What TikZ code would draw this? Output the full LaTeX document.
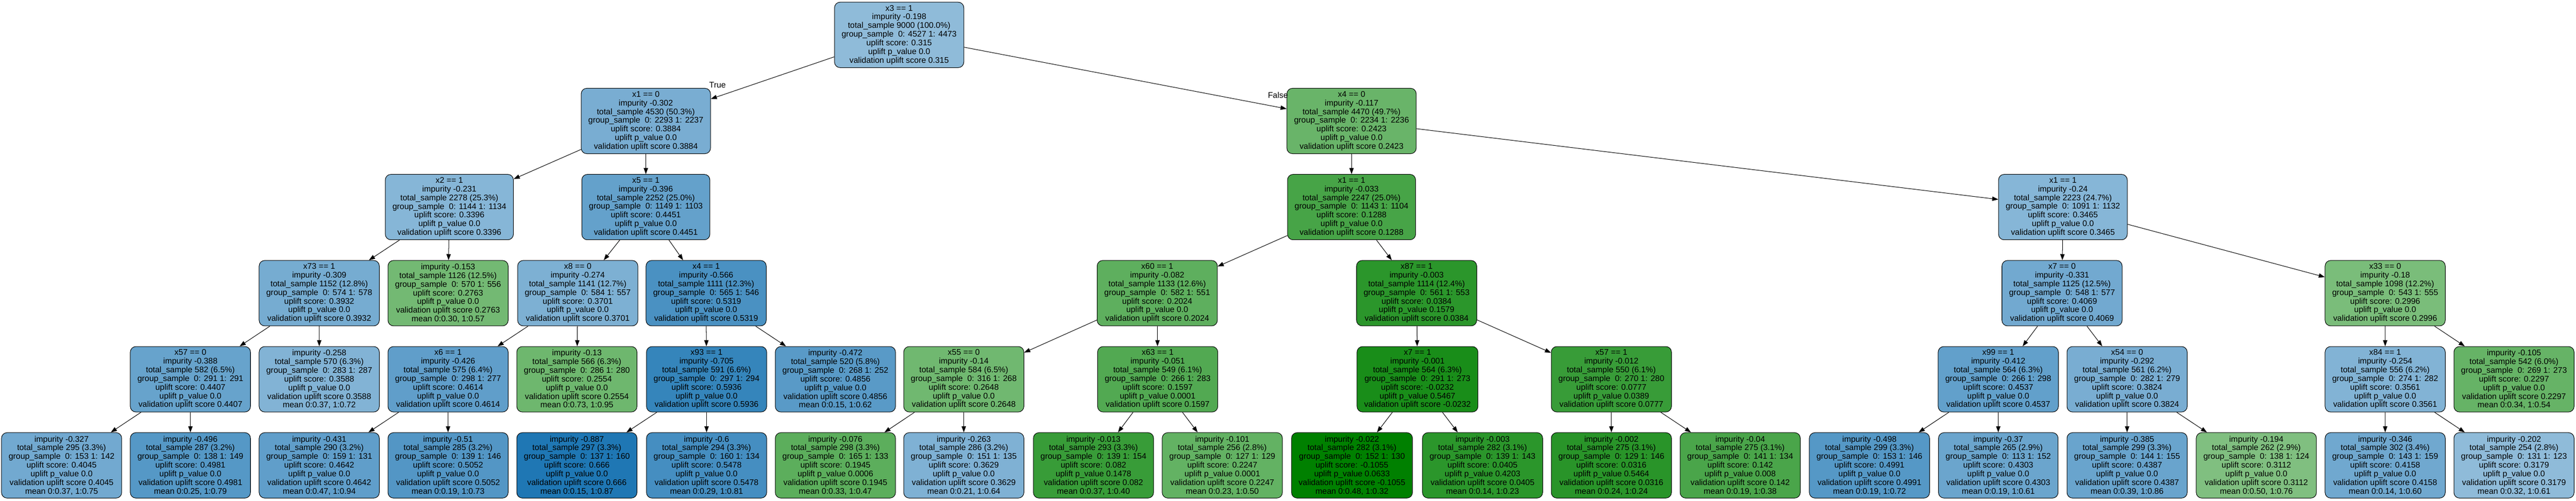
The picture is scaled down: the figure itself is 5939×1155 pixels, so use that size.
\documentclass[tikz,border=0pt]{standalone}
\usepackage{fontspec}
\setmainfont{Liberation Sans}
\usepackage{tikz}
\usetikzlibrary{arrows.meta}
\usetikzlibrary{positioning}

\definecolor{upblue}{HTML}{1F77B4}
\definecolor{upgreen}{HTML}{008000}

% split node: test, impurity, total, group 0, group 1, uplift, p value
\newcommand{\splittext}[7]{#1\\impurity #2\\total\_sample #3\\group\_sample\ \ 0: #4 1: #5\\uplift score: #6\\uplift p\_value #7\\validation uplift score #6}
% leaf node: impurity, total, group 0, group 1, uplift, p value, mean
\newcommand{\leaftext}[7]{impurity #1\\total\_sample #2\\group\_sample\ \ 0: #3 1: #4\\uplift score: #5\\uplift p\_value #6\\validation uplift score #5\\mean #7}

\begin{document}
\begin{tikzpicture}[x=1pt, y=1pt, >={Triangle[length=14pt,width=10pt]}, node distance=198.6pt,
  font=\fontsize{18.9pt}{20pt}\selectfont,
  box/.style={draw, line width=1.2pt, rounded corners=13pt, align=center,
    inner xsep=16.5pt, inner ysep=6.5pt, minimum height=151pt},
  edge/.style={->, line width=1.2pt}]
			\useasboundingbox (0,0) rectangle (5939,-1155);
			% level 0 - 1
			\node[box, fill=upblue!50] (Root) at (2073,-80.5) {\splittext{x3 == 1}{-0.198}{9000 (100.0\%)}{4527}{4473}{0.315}{0.0}};
			\node[box, fill=upblue!60, below of=Root, xshift=-584pt] (L) {\splittext{x1 == 0}{-0.302}{4530 (50.3\%)}{2293}{2237}{0.3884}{0.0}};
			\node[box, fill=upgreen!59, below of=Root, xshift=1043pt] (R) {\splittext{x4 == 0}{-0.117}{4470 (49.7\%)}{2234}{2236}{0.2423}{0.0}};
			% level 2
			\node[box, fill=upblue!54, below of=L, xshift=-453pt] (LL) {\splittext{x2 == 1}{-0.231}{2278 (25.3\%)}{1144}{1134}{0.3396}{0.0}};
			\node[box, fill=upblue!69, below of=L] (LR) {\splittext{x5 == 1}{-0.396}{2252 (25.0\%)}{1149}{1103}{0.4451}{0.0}};
			\node[box, fill=upgreen!72, below of=R] (RL) {\splittext{x1 == 1}{-0.033}{2247 (25.0\%)}{1143}{1104}{0.1288}{0.0}};
			\node[box, fill=upblue!54, below of=R, xshift=1640pt] (RR) {\splittext{x1 == 1}{-0.24}{2223 (24.7\%)}{1091}{1132}{0.3465}{0.0}};
			% level 3
			\node[box, fill=upblue!61, below of=LL, xshift=-300pt] (LLL) {\splittext{x73 == 1}{-0.309}{1152 (12.8\%)}{574}{578}{0.3932}{0.0}};
			\node[box, fill=upgreen!55, below of=LL, xshift=-3pt] (LLR) {\leaftext{-0.153}{1126 (12.5\%)}{570}{556}{0.2763}{0.0}{0:0.30, 1:0.57}};
			\node[box, fill=upblue!58, below of=LR, xshift=-157pt] (LRL) {\splittext{x8 == 0}{-0.274}{1141 (12.7\%)}{584}{557}{0.3701}{0.0}};
			\node[box, fill=upblue!81, below of=LR, xshift=139pt] (LRR) {\splittext{x4 == 1}{-0.566}{1111 (12.3\%)}{565}{546}{0.5319}{0.0}};
			\node[box, fill=upgreen!63, below of=RL, xshift=-448pt] (RLL) {\splittext{x60 == 1}{-0.082}{1133 (12.6\%)}{582}{551}{0.2024}{0.0}};
			\node[box, fill=upgreen!83, below of=RL, xshift=150pt] (RLR) {\splittext{x87 == 1}{-0.003}{1114 (12.4\%)}{561}{553}{0.0384}{0.1579}};
			\node[box, fill=upblue!63, below of=RR, xshift=-2pt] (RRL) {\splittext{x7 == 0}{-0.331}{1125 (12.5\%)}{548}{577}{0.4069}{0.0}};
			\node[box, fill=upgreen!52, below of=RR, xshift=743pt] (RRR) {\splittext{x33 == 0}{-0.18}{1098 (12.2\%)}{543}{555}{0.2996}{0.0}};
			% level 4
			\node[box, fill=upblue!68, below of=LLL, xshift=-297pt] (LLLL) {\splittext{x57 == 0}{-0.388}{582 (6.5\%)}{291}{291}{0.4407}{0.0}};
			\node[box, fill=upblue!56, below of=LLL] (LLLR) {\leaftext{-0.258}{570 (6.3\%)}{283}{287}{0.3588}{0.0}{0:0.37, 1:0.72}};
			\node[box, fill=upblue!71, below of=LRL, xshift=-299pt] (LRLL) {\splittext{x6 == 1}{-0.426}{575 (6.4\%)}{298}{277}{0.4614}{0.0}};
			\node[box, fill=upgreen!57, below of=LRL, xshift=-2pt] (LRLR) {\leaftext{-0.13}{566 (6.3\%)}{286}{280}{0.2554}{0.0}{0:0.73, 1:0.95}};
			\node[box, fill=upblue!90, below of=LRR, xshift=1pt] (LRRL) {\splittext{x93 == 1}{-0.705}{591 (6.6\%)}{297}{294}{0.5936}{0.0}};
			\node[box, fill=upblue!74, below of=LRR, xshift=298pt] (LRRR) {\leaftext{-0.472}{520 (5.8\%)}{268}{252}{0.4856}{0.0}{0:0.15, 1:0.62}};
			\node[box, fill=upgreen!56, below of=RLL, xshift=-446pt] (RLLL) {\splittext{x55 == 0}{-0.14}{584 (6.5\%)}{316}{268}{0.2648}{0.0}};
			\node[box, fill=upgreen!68, below of=RLL, xshift=1pt] (RLLR) {\splittext{x63 == 1}{-0.051}{549 (6.1\%)}{266}{283}{0.1597}{0.0001}};
			\node[box, fill=upgreen!90, below of=RLR, xshift=2pt] (RLRL) {\splittext{x7 == 1}{-0.001}{564 (6.3\%)}{291}{273}{-0.0232}{0.5467}};
			\node[box, fill=upgreen!78, below of=RLR, xshift=449pt] (RLRR) {\splittext{x57 == 1}{-0.012}{550 (6.1\%)}{270}{280}{0.0777}{0.0389}};
			\node[box, fill=upblue!70, below of=RRL, xshift=-147pt] (RRLL) {\splittext{x99 == 1}{-0.412}{564 (6.3\%)}{266}{298}{0.4537}{0.0}};
			\node[box, fill=upblue!60, below of=RRL, xshift=150pt] (RRLR) {\splittext{x54 == 0}{-0.292}{561 (6.2\%)}{282}{279}{0.3824}{0.0}};
			\node[box, fill=upblue!56, below of=RRR] (RRRL) {\splittext{x84 == 1}{-0.254}{556 (6.2\%)}{274}{282}{0.3561}{0.0}};
			\node[box, fill=upgreen!60, below of=RRR, xshift=297pt] (RRRR) {\leaftext{-0.105}{542 (6.0\%)}{269}{273}{0.2297}{0.0}{0:0.34, 1:0.54}};
			% level 5
			\node[box, fill=upblue!63, below of=LLLL, xshift=-297pt] (LLLLL) {\leaftext{-0.327}{295 (3.3\%)}{153}{142}{0.4045}{0.0}{0:0.37, 1:0.75}};
			\node[box, fill=upblue!76, below of=LLLL] (LLLLR) {\leaftext{-0.496}{287 (3.2\%)}{138}{149}{0.4981}{0.0}{0:0.25, 1:0.79}};
			\node[box, fill=upblue!71, below of=LRLL, xshift=-297pt] (LRLLL) {\leaftext{-0.431}{290 (3.2\%)}{159}{131}{0.4642}{0.0}{0:0.47, 1:0.94}};
			\node[box, fill=upblue!77, below of=LRLL] (LRLLR) {\leaftext{-0.51}{285 (3.2\%)}{139}{146}{0.5052}{0.0}{0:0.19, 1:0.73}};
			\node[box, fill=upblue!100, below of=LRRL, xshift=-299pt] (LRRLL) {\leaftext{-0.887}{297 (3.3\%)}{137}{160}{0.666}{0.0}{0:0.15, 1:0.87}};
			\node[box, fill=upblue!83, below of=LRRL] (LRRLR) {\leaftext{-0.6}{294 (3.3\%)}{160}{134}{0.5478}{0.0}{0:0.29, 1:0.81}};
			\node[box, fill=upgreen!64, below of=RLLL, xshift=-296pt] (RLLLL) {\leaftext{-0.076}{298 (3.3\%)}{165}{133}{0.1945}{0.0006}{0:0.33, 1:0.47}};
			\node[box, fill=upblue!57, below of=RLLL] (RLLLR) {\leaftext{-0.263}{286 (3.2\%)}{151}{135}{0.3629}{0.0}{0:0.21, 1:0.64}};
			\node[box, fill=upgreen!78, below of=RLLR, xshift=-148pt] (RLLRL) {\leaftext{-0.013}{293 (3.3\%)}{139}{154}{0.082}{0.1478}{0:0.37, 1:0.40}};
			\node[box, fill=upgreen!61, below of=RLLR, xshift=149pt] (RLLRR) {\leaftext{-0.101}{256 (2.8\%)}{127}{129}{0.2247}{0.0001}{0:0.23, 1:0.50}};
			\node[box, fill=upgreen!100, below of=RLRL, xshift=-151pt] (RLRLL) {\leaftext{-0.022}{282 (3.1\%)}{152}{130}{-0.1055}{0.0633}{0:0.48, 1:0.32}};
			\node[box, fill=upgreen!83, below of=RLRL, xshift=150pt] (RLRLR) {\leaftext{-0.003}{282 (3.1\%)}{139}{143}{0.0405}{0.4203}{0:0.14, 1:0.23}};
			\node[box, fill=upgreen!84, below of=RLRR] (RLRRL) {\leaftext{-0.002}{275 (3.1\%)}{129}{146}{0.0316}{0.5464}{0:0.24, 1:0.24}};
			\node[box, fill=upgreen!71, below of=RLRR, xshift=297pt] (RLRRR) {\leaftext{-0.04}{275 (3.1\%)}{141}{134}{0.142}{0.008}{0:0.19, 1:0.38}};
			\node[box, fill=upblue!76, below of=RRLL, xshift=-297pt] (RRLLL) {\leaftext{-0.498}{299 (3.3\%)}{153}{146}{0.4991}{0.0}{0:0.19, 1:0.72}};
			\node[box, fill=upblue!66, below of=RRLL] (RRLLR) {\leaftext{-0.37}{265 (2.9\%)}{113}{152}{0.4303}{0.0}{0:0.19, 1:0.61}};
			\node[box, fill=upblue!67, below of=RRLR] (RRLRL) {\leaftext{-0.385}{299 (3.3\%)}{144}{155}{0.4387}{0.0}{0:0.39, 1:0.86}};
			\node[box, fill=upgreen!50, below of=RRLR, xshift=298pt] (RRLRR) {\leaftext{-0.194}{262 (2.9\%)}{138}{124}{0.3112}{0.0}{0:0.50, 1:0.76}};
			\node[box, fill=upblue!64, below of=RRRL] (RRRLL) {\leaftext{-0.346}{302 (3.4\%)}{143}{159}{0.4158}{0.0}{0:0.14, 1:0.60}};
			\node[box, fill=upblue!50, below of=RRRL, xshift=297pt] (RRRLR) {\leaftext{-0.202}{254 (2.8\%)}{131}{123}{0.3179}{0.0}{0:0.32, 1:0.61}};
			% edges
			\draw[edge] (Root) -- (L) node[pos=0.945, above=20pt, inner sep=0pt] {True};
			\draw[edge] (Root) -- (R) node[pos=0.973, above=20pt, inner sep=0pt] {False};
			\draw[edge] (L) -- (LL);
			\draw[edge] (L) -- (LR);
			\draw[edge] (R) -- (RL);
			\draw[edge] (R) -- (RR);
			\draw[edge] (LL) -- (LLL);
			\draw[edge] (LL) -- (LLR);
			\draw[edge] (LR) -- (LRL);
			\draw[edge] (LR) -- (LRR);
			\draw[edge] (RL) -- (RLL);
			\draw[edge] (RL) -- (RLR);
			\draw[edge] (RR) -- (RRL);
			\draw[edge] (RR) -- (RRR);
			\draw[edge] (LLL) -- (LLLL);
			\draw[edge] (LLL) -- (LLLR);
			\draw[edge] (LRL) -- (LRLL);
			\draw[edge] (LRL) -- (LRLR);
			\draw[edge] (LRR) -- (LRRL);
			\draw[edge] (LRR) -- (LRRR);
			\draw[edge] (RLL) -- (RLLL);
			\draw[edge] (RLL) -- (RLLR);
			\draw[edge] (RLR) -- (RLRL);
			\draw[edge] (RLR) -- (RLRR);
			\draw[edge] (RRL) -- (RRLL);
			\draw[edge] (RRL) -- (RRLR);
			\draw[edge] (RRR) -- (RRRL);
			\draw[edge] (RRR) -- (RRRR);
			\draw[edge] (LLLL) -- (LLLLL);
			\draw[edge] (LLLL) -- (LLLLR);
			\draw[edge] (LRLL) -- (LRLLL);
			\draw[edge] (LRLL) -- (LRLLR);
			\draw[edge] (LRRL) -- (LRRLL);
			\draw[edge] (LRRL) -- (LRRLR);
			\draw[edge] (RLLL) -- (RLLLL);
			\draw[edge] (RLLL) -- (RLLLR);
			\draw[edge] (RLLR) -- (RLLRL);
			\draw[edge] (RLLR) -- (RLLRR);
			\draw[edge] (RLRL) -- (RLRLL);
			\draw[edge] (RLRL) -- (RLRLR);
			\draw[edge] (RLRR) -- (RLRRL);
			\draw[edge] (RLRR) -- (RLRRR);
			\draw[edge] (RRLL) -- (RRLLL);
			\draw[edge] (RRLL) -- (RRLLR);
			\draw[edge] (RRLR) -- (RRLRL);
			\draw[edge] (RRLR) -- (RRLRR);
			\draw[edge] (RRRL) -- (RRRLL);
			\draw[edge] (RRRL) -- (RRRLR);
		\end{tikzpicture}
\end{document}
